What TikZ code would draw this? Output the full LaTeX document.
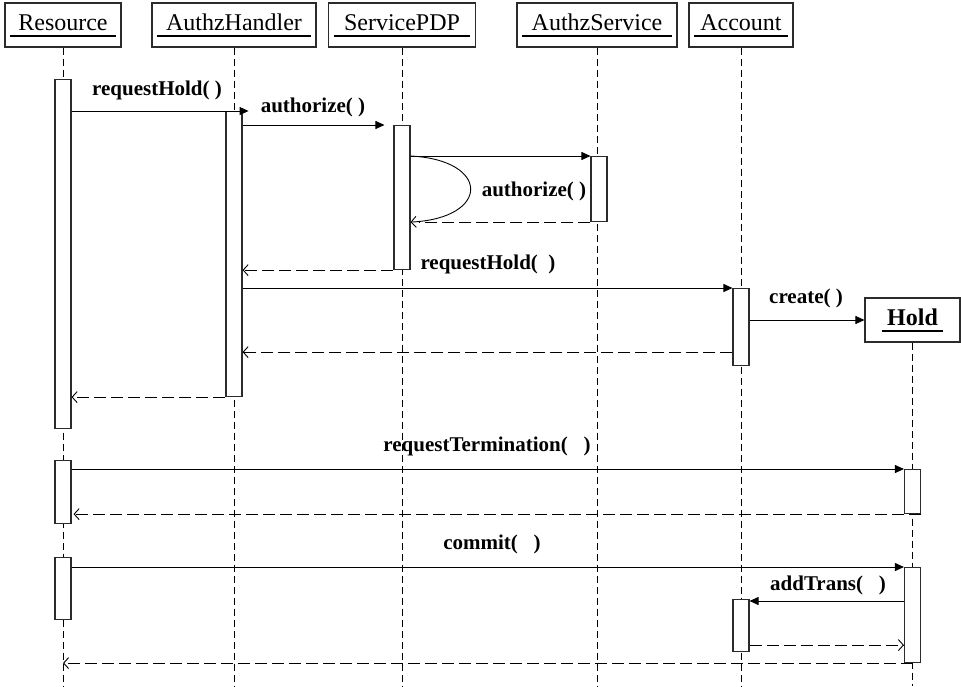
\documentclass[tikz,border=0pt]{standalone}
\usepackage{fontspec}
\setmainfont{Liberation Serif}
\usetikzlibrary{arrows.meta,calc}
\definecolor{cline}{HTML}{2B2B2B}

\begin{document}
\begin{tikzpicture}[x=1pt,y=-1pt,every node/.style={inner sep=0pt},
  obj/.style={draw=cline,line width=1.1pt,fill=white,minimum height=44,text height=17,text depth=6,font=\fontsize{24}{28}\selectfont},
  act/.style={draw=cline,line width=1.1pt,fill=white,minimum width=16,minimum height=#1,anchor=north},
  lbl/.style={font=\bfseries\fontsize{21}{24}\selectfont},
  life/.style={line width=0.9pt,dash pattern=on 7pt off 4pt},
  back/.style={line width=0.9pt,dash pattern=on 12pt off 5pt},
  callmsg/.style={line width=0.9pt,-{Triangle[length=9pt,width=8pt]}},
  replymsg/.style={back,-{Straight Barb[length=5pt,width=11pt]}},
  uline/.style={line width=2pt}]
  \useasboundingbox (0,0) rectangle (961,686);
  % objects
  \node[obj,minimum width=116] (res) at (63,25) {Resource};
  \node[obj,minimum width=164] (azh) at (234,25) {AuthzHandler};
  \node[obj,minimum width=147] (pdp) at (402,25) {ServicePDP};
  \node[obj,minimum width=160] (azs) at (597,25) {AuthzService};
  \node[obj,minimum width=104] (acc) at (741,25) {Account};
  \node[obj,minimum width=95,font=\bfseries\fontsize{24}{28}\selectfont] (hold) at (912.5,320) {Hold};
  \foreach \n in {res,azh,pdp,azs,acc}{\draw[uline] ([xshift=6pt,yshift=12pt]\n.south west) -- ([xshift=-6pt,yshift=12pt]\n.south east);}
  \draw[uline] ([xshift=18pt,yshift=12pt]hold.south west) -- ([xshift=-18pt,yshift=12pt]hold.south east);
  % lifelines
  \coordinate (bot) at (0,686);
  \foreach \n in {res,azh,pdp,azs,acc,hold}{\draw[life] (\n.south) -- (\n.south |- bot);}
  % activations
  \node[act=349] (r1) at (63,79) {};
  \node[act=63] (r2) at (63,460) {};
  \node[act=62] (r3) at (63,557) {};
  \node[act=285] (ah1) at (234,111) {};
  \node[act=144] (pdp1) at (402,125) {};
  \node[act=65] (as1) at (599,156) {};
  \node[act=77] (ac1) at (741,288) {};
  \node[act=52] (ac2) at (741,599) {};
  \node[act=44] (h1) at (912.5,469) {};
  \node[act=95] (h2) at (912.5,567) {};
  % messages
  \draw[callmsg] (r1.east |- ah1.north) -- ($(ah1.north east)+(6,0)$);
  \node[lbl] (l1) at (157,90) {requestHold( )};
  \draw[callmsg] (ah1.east |- pdp1.north) -- ($(pdp1.north west)+(-9,0)$);
  \node[lbl] (l2) at (313,107) {authorize( )};
  \draw[callmsg] (pdp1.east |- as1.north) -- (as1.north west);
  \draw[line width=0.9pt,-{Straight Barb[length=5pt,width=11pt]}] (pdp1.east |- as1.north) .. controls +(80,4) and +(80,-4) .. (pdp1.east |- as1.south);
  \draw[back] (as1.south west) -- ($(pdp1.east |- as1.south)+(8,0)$);
  \node[lbl] (l3) at (534,191) {authorize( )};
  \draw[replymsg] (pdp1.south west) -- (ah1.east |- pdp1.south);
  \node[lbl] (l4) at (488,264) {requestHold(~~)};
  \draw[callmsg] (ah1.east |- ac1.north) -- (ac1.north west);
  \draw[callmsg] (ac1.east |- hold.west) -- (hold.west);
  \node[lbl] (l5) at (806,298) {create( )};
  \coordinate (a7) at ($(ac1.south west)+(0,-14)$);
  \draw[replymsg] (a7) -- (ah1.east |- a7);
  \draw[replymsg] (ah1.south west) -- (r1.east |- ah1.south);
  \draw[callmsg] (r2.east |- h1.north) -- (h1.north west);
  \node[lbl] (l6) at (487,446) {requestTermination(~~~)};
  \draw[replymsg] (h1.south east) -- ($(r2.east |- h1.south)+(2,0)$);
  \draw[callmsg] (r3.east |- h2.north) -- (h2.north west);
  \node[lbl] (l7) at (492,544) {commit(~~~)};
  \coordinate (a12) at ($(ac2.north east)+(0,2)$);
  \draw[callmsg] (h2.west |- a12) -- (a12);
  \node[lbl] (l8) at (828,585) {addTrans(~~~)};
  \coordinate (a13) at ($(ac2.south east)+(0,-7)$);
  \draw[replymsg] (a13) -- (h2.west |- a13);
  \draw[replymsg] (h2.south) -- (res.south |- h2.south);
\end{tikzpicture}
\end{document}
